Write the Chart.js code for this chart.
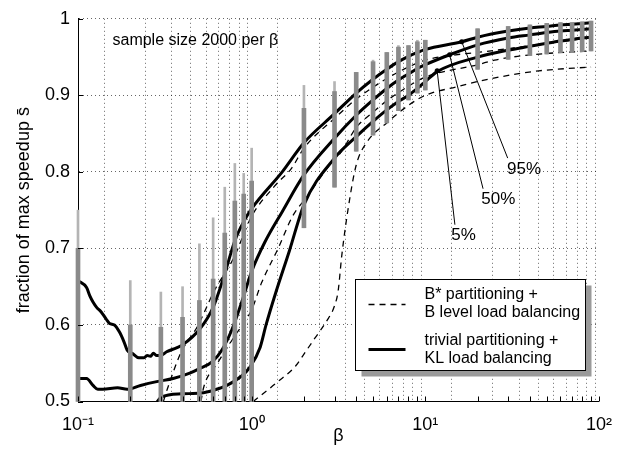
<!DOCTYPE html>
<html>
<head>
<meta charset="utf-8">
<script src="https://cdn.jsdelivr.net/npm/chart.js@4/dist/chart.umd.min.js"></script>
<style>
  html, body { margin: 0; padding: 0; background: #fff; }
</style>
</head>
<body>
<canvas id="speedup" width="625" height="453"></canvas>
<script>
(function () {
  "use strict";

  const FONT = '"Liberation Sans", Arial, Helvetica, sans-serif';

  // axis ticks
  const xGridValues = [0.1, 0.2, 0.3, 0.4, 0.5, 0.6, 0.7, 0.8, 0.9, 1, 2, 3, 4, 5, 6, 7, 8, 9, 10,
                       20, 30, 40, 50, 60, 70, 80, 90, 100];
  const xTickValues = [0.1, 1, 10, 100];
  const xTickLabels = ['10\u207B\u00B9', '10\u2070', '10\u00B9', '10\u00B2'];
  const yTickValues = [0.5, 0.6, 0.7, 0.8, 0.9, 1];
  const yTickLabels = ['0.5', '0.6', '0.7', '0.8', '0.9', '1'];
  const xTitle = '\u03B2';
  const yTitle = 'fraction of max speedup s\u0304';

  // sample columns (2000 runs per beta)
  const sampleBeta = [0.1, 0.2, 0.3, 0.4, 0.5, 0.6, 0.7, 0.8, 0.9, 1, 2, 3, 4, 5, 6, 7, 8, 9, 10,
                      20, 30, 40, 50, 60, 70, 80, 90];
  const sampleLo   = [0.5, 0.5, 0.5, 0.5, 0.5, 0.5, 0.5, 0.5, 0.5, 0.5, 0.727, 0.78, 0.827, 0.848, 0.864, 0.88, 0.894, 0.903, 0.907,
                      0.934, 0.947, 0.952, 0.954, 0.956, 0.956, 0.957, 0.958];
  const sampleHi   = [0.70, 0.60, 0.597, 0.61, 0.632, 0.66, 0.72, 0.762, 0.771, 0.788, 0.883, 0.905, 0.930, 0.944, 0.956, 0.963, 0.965, 0.970, 0.972,
                      0.987, 0.990, 0.992, 0.994, 0.995, 0.995, 0.996, 0.997];
  const sampleMax  = [0.75, 0.658, 0.643, 0.65, 0.706, 0.74, 0.78, 0.811, 0.798, 0.831, 0.913, 0.918, 0.930, 0.946, 0.956, 0.965, 0.965, 0.972, 0.972,
                      0.987, 0.990, 0.992, 0.994, 0.995, 0.995, 0.996, 0.997];

  // trivial partitioning + KL load balancing (solid)
  const kl95Beta = [0.1, 0.112, 0.117, 0.122, 0.128, 0.136, 0.145, 0.152, 0.162, 0.173, 0.184, 0.192, 0.205, 0.224, 0.239,
                    0.25, 0.261, 0.272, 0.284, 0.3, 0.324, 0.369, 0.4, 0.5, 0.6, 0.7, 0.8, 0.9, 1, 1.5, 2, 3, 4, 5, 6, 7, 8, 9, 10,
                    16.2, 20, 30, 40, 50, 60, 70, 80, 90];
  const kl95     = [0.658, 0.649, 0.638, 0.630, 0.623, 0.617, 0.608, 0.602, 0.600, 0.591, 0.578, 0.567, 0.563, 0.557, 0.557,
                    0.560, 0.559, 0.563, 0.560, 0.560, 0.565, 0.570, 0.574, 0.594, 0.623, 0.667, 0.710, 0.735, 0.752, 0.800, 0.838, 0.876, 0.903, 0.921, 0.934, 0.944, 0.951, 0.956, 0.960,
                    0.970, 0.976, 0.984, 0.988, 0.990, 0.992, 0.993, 0.994, 0.995];
  const kl50Beta = [0.1, 0.112, 0.122, 0.13, 0.139, 0.169, 0.192, 0.229, 0.284, 0.353, 0.44, 0.5, 0.594, 0.677, 0.77,
                    0.877, 1, 1.19, 1.5, 2, 3, 4, 5, 6, 7, 8, 9, 10, 13.8, 20, 30, 40, 50, 60, 70, 80, 90];
  const kl50     = [0.530, 0.530, 0.521, 0.516, 0.516, 0.518, 0.516, 0.521, 0.526, 0.530, 0.537, 0.543, 0.552, 0.568, 0.594,
                    0.630, 0.670, 0.708, 0.748, 0.796, 0.844, 0.874, 0.894, 0.909, 0.920, 0.928, 0.935, 0.940, 0.953, 0.966, 0.975, 0.979, 0.982, 0.984, 0.985, 0.986, 0.987];
  const kl5Beta  = [0.28, 0.303, 0.394, 0.51, 0.61, 0.72, 0.86, 0.978, 1.12, 1.21, 1.38, 1.65, 2, 3, 4, 5, 6, 7, 8, 9,
                    10, 11.7, 20, 30, 40, 50, 60, 70, 80, 90];
  const kl5      = [0.497, 0.506, 0.510, 0.511, 0.515, 0.521, 0.532, 0.545, 0.571, 0.600, 0.643, 0.697, 0.757, 0.818, 0.846, 0.866, 0.881, 0.892, 0.900, 0.909,
                    0.918, 0.931, 0.950, 0.959, 0.964, 0.968, 0.971, 0.973, 0.975, 0.976];

  // B* partitioning + B level load balancing (dashed)
  const bs95Beta = [0.31, 0.33, 0.39, 0.49, 0.61, 0.79, 1, 1.35, 1.7, 2, 3, 4, 6, 8, 10, 15, 20, 30, 50, 90];
  const bs95     = [0.5, 0.519, 0.563, 0.599, 0.645, 0.688, 0.742, 0.781, 0.805, 0.831, 0.870, 0.895, 0.922, 0.937, 0.946, 0.953, 0.956, 0.961, 0.968, 0.975];
  const bs50Beta = [0.51, 0.53, 0.635, 0.79, 1, 1.14, 1.42, 1.72, 2.09, 2.81, 3.28, 4, 5, 6, 8, 10, 20, 25, 34, 52, 90];
  const bs50     = [0.5, 0.519, 0.550, 0.584, 0.620, 0.655, 0.700, 0.742, 0.768, 0.809, 0.826, 0.858, 0.878, 0.893, 0.912, 0.924, 0.940, 0.946, 0.951, 0.955, 0.958];
  const bs5Beta  = [1.02, 1.4, 1.8, 2, 2.3, 2.7, 3, 3.15, 3.3, 3.6, 4, 4.65, 6, 8, 10, 15, 20, 30, 45, 90];
  const bs5      = [0.5, 0.525, 0.547, 0.562, 0.582, 0.605, 0.625, 0.645, 0.69, 0.753, 0.809, 0.840, 0.864, 0.887, 0.900, 0.911, 0.918, 0.926, 0.932, 0.937];

  // legend and notes
  const legendLines = [['B* partitioning +', 'B level load balancing'], ['trivial partitioning +', 'KL load balancing']];
  const noteLabels   = ['95%', '50%', '5%'];
  const noteDotBeta  = [16.2, 13.8, 11.7];
  const noteDotVal   = [0.970, 0.953, 0.932];
  const noteEndBeta  = [29.8, 21.5, 14.8];
  const noteEndVal   = [0.818, 0.778, 0.731];
  const noteTextBeta = [37.0, 26.3, 16.6];
  const noteTextVal  = [0.804, 0.764, 0.717];
  const sampleNote = 'sample size 2000 per \u03B2';
  const sampleNoteBeta = 0.158;
  const sampleNoteVal = 0.971;

  const pts = (xs, ys) => xs.map((x, i) => ({ x: x, y: ys[i] }));

  Chart.defaults.font.family = FONT;
  Chart.defaults.color = '#000';

  const solid = (data) => ({
    type: 'line', data: data, borderColor: '#000', borderWidth: 3, pointRadius: 0,
    cubicInterpolationMode: 'monotone', order: 2
  });
  const dashed = (data) => ({
    type: 'line', data: data, borderColor: '#000', borderWidth: 1.3, borderDash: [6, 5], pointRadius: 0,
    cubicInterpolationMode: 'monotone', order: 3
  });

  const inwardTicks = {
    id: 'inwardTicks',
    afterDatasetsDraw(chart) {
      const { ctx, chartArea: a, scales: { x, y } } = chart;
      ctx.save();
      ctx.strokeStyle = '#000';
      ctx.lineWidth = 1;
      ctx.beginPath();
      xGridValues.forEach(v => {
        const px = Math.round(x.getPixelForValue(v)) + 0.5;
        ctx.moveTo(px, a.bottom);
        ctx.lineTo(px, a.bottom - 5);
      });
      yTickValues.forEach(v => {
        const py = Math.round(y.getPixelForValue(v)) + 0.5;
        ctx.moveTo(a.left, py);
        ctx.lineTo(a.left + 5, py);
      });
      ctx.stroke();
      ctx.restore();
    }
  };

  const notes = {
    id: 'notes',
    afterDatasetsDraw(chart) {
      const { ctx, scales: { x, y } } = chart;
      ctx.save();
      ctx.fillStyle = '#000';
      ctx.strokeStyle = '#000';
      ctx.lineWidth = 1;
      noteLabels.forEach((t, i) => {
        const x0 = x.getPixelForValue(noteDotBeta[i]), y0 = y.getPixelForValue(noteDotVal[i]);
        const x1 = x.getPixelForValue(noteEndBeta[i]), y1 = y.getPixelForValue(noteEndVal[i]);
        ctx.beginPath();
        ctx.moveTo(x0, y0);
        ctx.lineTo(x1, y1);
        ctx.stroke();
        ctx.beginPath();
        ctx.arc(x0, y0, 2.5, 0, Math.PI * 2);
        ctx.fill();
        ctx.font = '17px ' + FONT;
        ctx.textAlign = 'center';
        ctx.textBaseline = 'middle';
        ctx.fillText(t, x.getPixelForValue(noteTextBeta[i]), y.getPixelForValue(noteTextVal[i]));
      });
      ctx.font = '16px ' + FONT;
      ctx.textAlign = 'left';
      ctx.textBaseline = 'middle';
      ctx.fillText(sampleNote, x.getPixelForValue(sampleNoteBeta), y.getPixelForValue(sampleNoteVal));
      ctx.restore();
    }
  };

  // boxed legend with drop shadow, lower right
  const boxLegend = {
    id: 'boxLegend',
    afterDraw(chart) {
      const { ctx, chartArea: a } = chart;
      const lx = Math.round(a.right - 244) + 0.5, ly = Math.round(a.bottom - 123) + 0.5;
      const lw = 230, lh = 91;
      ctx.save();
      ctx.fillStyle = '#9a9a9a';
      ctx.fillRect(lx + 6, ly + 6, lw, lh);
      ctx.fillStyle = '#fff';
      ctx.fillRect(lx, ly, lw, lh);
      ctx.strokeStyle = '#000';
      ctx.lineWidth = 1;
      ctx.strokeRect(lx, ly, lw, lh);

      ctx.beginPath();
      ctx.lineWidth = 1.3;
      ctx.setLineDash([6, 5]);
      ctx.moveTo(lx + 13, ly + 25);
      ctx.lineTo(lx + 50, ly + 25);
      ctx.stroke();
      ctx.beginPath();
      ctx.setLineDash([]);
      ctx.lineWidth = 3;
      ctx.moveTo(lx + 13, ly + 70);
      ctx.lineTo(lx + 50, ly + 70);
      ctx.stroke();

      ctx.fillStyle = '#000';
      ctx.font = '16px ' + FONT;
      ctx.textAlign = 'left';
      ctx.textBaseline = 'middle';
      ctx.fillText(legendLines[0][0], lx + 69, ly + 15);
      ctx.fillText(legendLines[0][1], lx + 69, ly + 33);
      ctx.fillText(legendLines[1][0], lx + 69, ly + 61);
      ctx.fillText(legendLines[1][1], lx + 69, ly + 79);
      ctx.restore();
    }
  };

  const gridOpts = { color: 'rgba(0,0,0,0.6)', lineWidth: 1, drawTicks: false };
  const borderOpts = { display: true, color: '#000', width: 1, dash: [1, 3] };

  new Chart(document.getElementById('speedup'), {
    type: 'line',
    data: {
      datasets: [
        {
          type: 'bar', data: sampleBeta.map((b, i) => ({ x: b, y: [sampleLo[i], sampleHi[i]] })),
          backgroundColor: '#8a8a8a', barThickness: 4, grouped: false, clip: false, order: 0
        },
        {
          type: 'bar', data: sampleBeta.map((b, i) => ({ x: b, y: [sampleLo[i], sampleMax[i]] })),
          backgroundColor: '#b4b4b4', barThickness: 2, grouped: false, clip: false, order: 1
        },
        solid(pts(kl95Beta, kl95)),
        solid(pts(kl50Beta, kl50)),
        solid(pts(kl5Beta, kl5)),
        dashed(pts(bs95Beta, bs95)),
        dashed(pts(bs50Beta, bs50)),
        dashed(pts(bs5Beta, bs5))
      ]
    },
    options: {
      responsive: false,
      animation: false,
      layout: { padding: { top: 16.5, right: 15, left: 0, bottom: 0 } },
      scales: {
        x: {
          type: 'logarithmic', min: 0.1, max: 100, offset: false,
          afterBuildTicks: s => { s.ticks = xGridValues.map(v => ({ value: v, major: xTickValues.includes(v) })); },
          afterFit: s => { s.height = 51.5; },
          ticks: {
            autoSkip: false, maxRotation: 0, padding: 13, font: { size: 18 }, color: '#000',
            callback: v => { const i = xTickValues.indexOf(v); return i < 0 ? '' : xTickLabels[i]; }
          },
          grid: gridOpts,
          border: borderOpts,
          title: { display: true, text: xTitle, font: { size: 18 }, color: '#000', padding: { top: 0, bottom: 6 } }
        },
        y: {
          type: 'linear', min: 0.5, max: 1,
          afterBuildTicks: s => { s.ticks = yTickValues.map(v => ({ value: v })); },
          afterFit: s => { s.width = 78; },
          ticks: { padding: 8, font: { size: 18 }, color: '#000', callback: (v, i) => yTickLabels[i] },
          grid: gridOpts,
          border: borderOpts,
          title: { display: true, text: yTitle, font: { size: 18 }, color: '#000', padding: { top: 13, bottom: 0 } }
        }
      },
      plugins: {
        legend: { display: false },
        tooltip: { enabled: false }
      }
    },
    plugins: [inwardTicks, notes, boxLegend]
  });
})();
</script>
</body>
</html>
